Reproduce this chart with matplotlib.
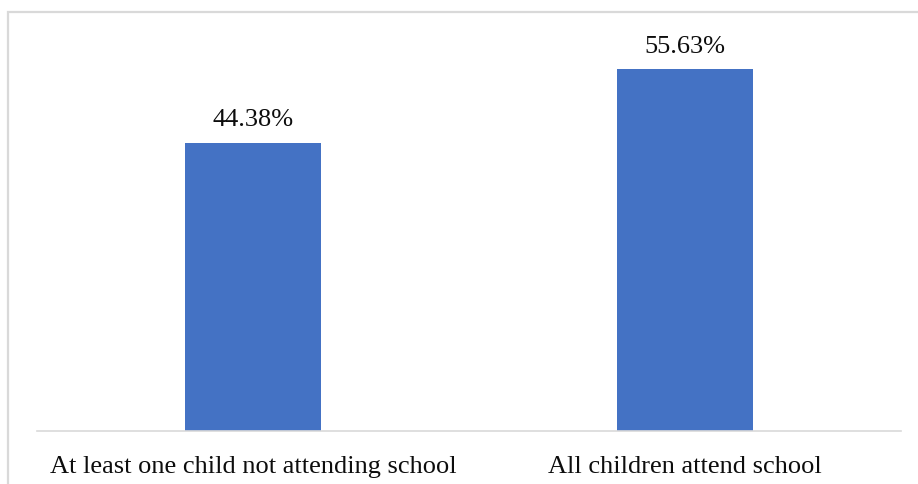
import matplotlib
matplotlib.use("Agg")
import matplotlib.pyplot as plt
from matplotlib.patches import Rectangle

categories = ["At least one child not attending school", "All children attend school"]
values = [44.38, 55.63]
labels = ["44.38%", "55.63%"]

W, H, DPI = 918, 484, 100
fig = plt.figure(figsize=(W / DPI, H / DPI), dpi=DPI)
plt.rcParams['font.family'] = ['Liberation Serif', 'DejaVu Serif']

# outer chart border
fig.patches.append(Rectangle((8 / W, -0.05), 1.1, 1 - 12 / H + 0.05, transform=fig.transFigure,
                             fill=False, edgecolor='#d9d9d9', linewidth=1.6))

ax = fig.add_axes([37 / W, 1 - 431 / H, 864 / W, (431 - 41) / H])
x = range(len(categories))
ax.bar(x, values, width=0.315, color='#4472c4', zorder=2)
ax.set_xlim(-0.5, 1.5)
ax.set_ylim(0, 60)
for xi, v, lab in zip(x, values, labels):
    ax.annotate(lab, (xi, v), xytext=(0, 8), textcoords='offset points',
                ha='center', va='bottom', fontsize=19, color='#0d0d0d')
ax.set_xticks(list(x))
ax.set_xticklabels(categories, fontsize=19, color='#0d0d0d')
ax.tick_params(axis='x', length=0, pad=18)
ax.set_yticks([])
for s in ['top', 'right', 'left']:
    ax.spines[s].set_visible(False)
ax.spines['bottom'].set_color('#d9d9d9')
ax.spines['bottom'].set_linewidth(1.2)

fig.savefig("out.png", dpi=DPI)
